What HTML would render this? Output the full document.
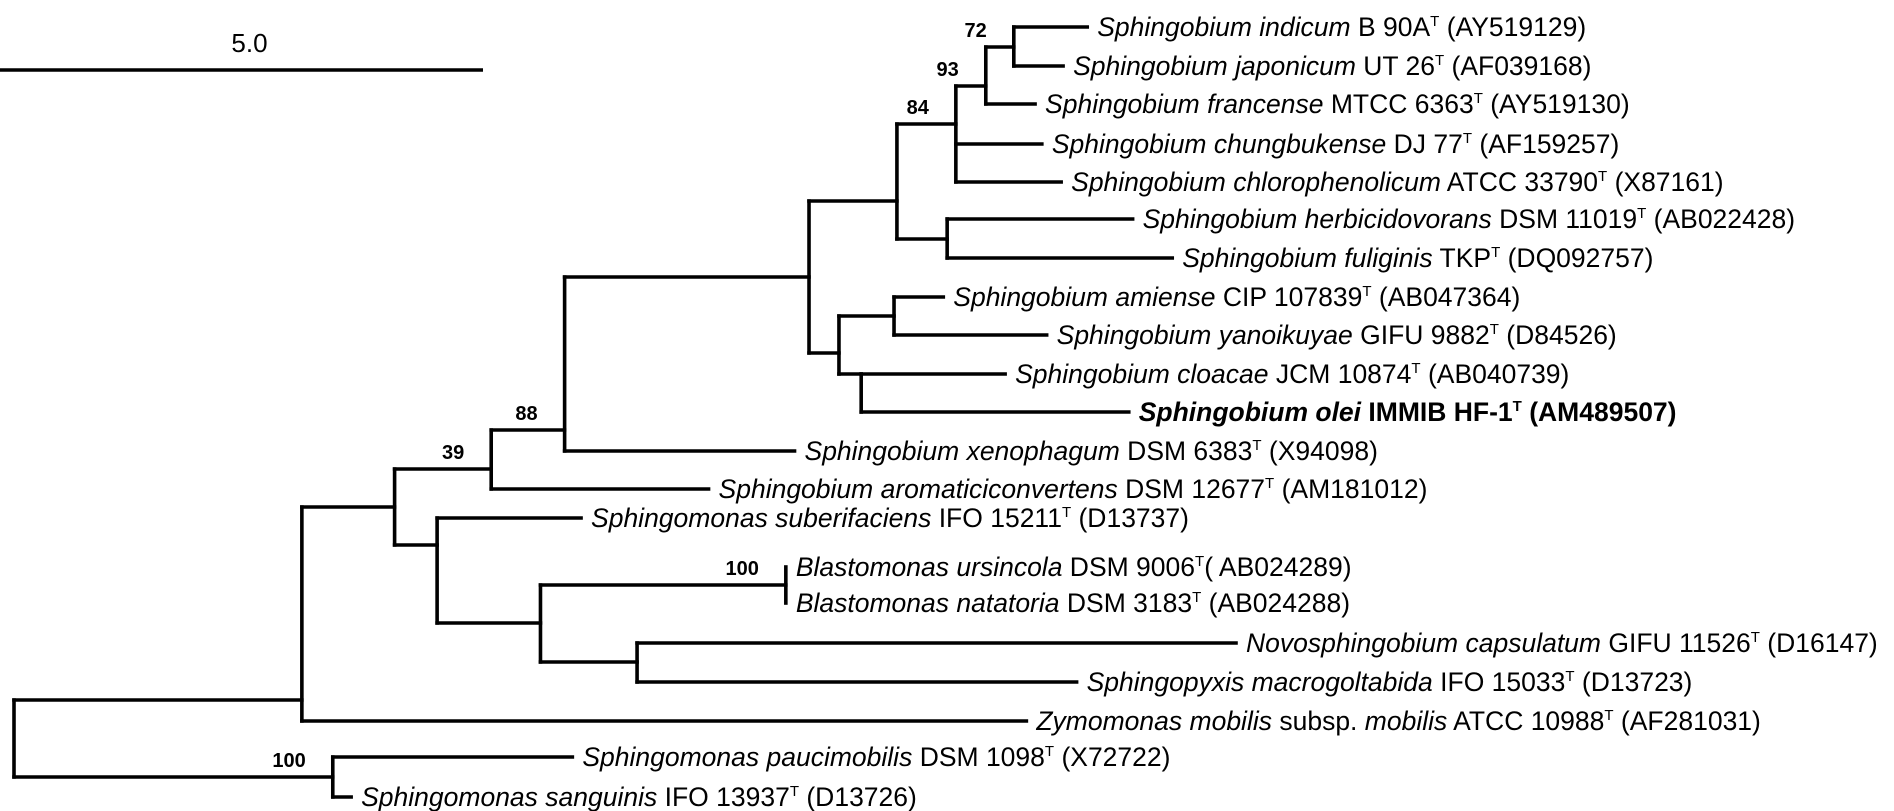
<!DOCTYPE html>
<html><head><meta charset="utf-8"><style>
html,body{margin:0;padding:0;background:#fff;}
svg{display:block;}
text{font-family:"Liberation Sans",Arial,sans-serif;fill:#000;}
</style></head><body>
<svg id="tree" width="1894" height="811" viewBox="0 0 1894 811" xmlns="http://www.w3.org/2000/svg"></svg>
<script>
// internal nodes: id, parent, depth (substitution units), row y
const nodeIds     = ['R','A','S','B','C','D','E','F','G','H','I','J','K','L','M','N','O','P','Q'];
const nodeParents = [null,'R','R','A','B','C','D','E','F','G','H','F','E','K','K','B','N','O','O'];
const nodeDepths  = [0,2.98,3.30,3.94,4.94,5.70,8.23,9.14,9.75,10.06,10.35,9.66,8.54,9.11,8.77,4.38,5.45,7.99,6.45];
const nodeRows    = [738,700,777,507,469,430,277,201,124,86,47,239,353,316,374,545,623,585,662];
const bootNodes   = ['I','H','G','D','C','P','S'];
const bootValues  = ['72','93','84','88','39','100','100'];
// leaves
const leafGenus   = ['Sphingobium indicum','Sphingobium japonicum','Sphingobium francense','Sphingobium chungbukense','Sphingobium chlorophenolicum','Sphingobium herbicidovorans','Sphingobium fuliginis','Sphingobium amiense','Sphingobium yanoikuyae','Sphingobium cloacae','Sphingobium olei','Sphingobium xenophagum','Sphingobium aromaticiconvertens','Sphingomonas suberifaciens','Blastomonas ursincola','Blastomonas natatoria','Novosphingobium capsulatum','Sphingopyxis macrogoltabida','Zymomonas mobilis','Sphingomonas paucimobilis','Sphingomonas sanguinis'];
const leafStrain  = ['B 90A','UT 26','MTCC 6363','DJ 77','ATCC 33790','DSM 11019','TKP','CIP 107839','GIFU 9882','JCM 10874','IMMIB HF-1','DSM 6383','DSM 12677','IFO 15211','DSM 9006','DSM 3183','GIFU 11526','IFO 15033','','DSM 1098','IFO 13937'];
const leafAcc     = ['(AY519129)','(AF039168)','(AY519130)','(AF159257)','(X87161)','(AB022428)','(DQ092757)','(AB047364)','(D84526)','(AB040739)','(AM489507)','(X94098)','(AM181012)','(D13737)','( AB024289)','(AB024288)','(D16147)','(D13723)','(AF281031)','(X72722)','(D13726)'];
const leafParents = ['I','I','H','G','G','J','J','L','L','M','M','D','C','N','P','P','Q','Q','A','S','S'];
const leafDepths  = [11.11,10.86,10.57,10.64,10.84,11.58,11.99,9.62,10.69,10.26,11.54,8.08,7.19,5.87,7.99,7.99,12.65,11.00,10.48,5.78,3.49];
const leafRows    = [27,66,104,144,182,219,258,297,335,374,412,451,489,518,567,603,643,682,721,757,797];
const scaleValue = 5.0;

const NS='http://www.w3.org/2000/svg';
const svg=document.getElementById('tree');
const X0=14, PXU=96.6;
const xs=d=>X0+d*PXU;
const nodeX={}, nodeY={};
nodeIds.forEach((id,i)=>{nodeX[id]=xs(nodeDepths[i]);nodeY[id]=nodeRows[i];});
function mk(tag,attrs){const e=document.createElementNS(NS,tag);for(const k in attrs)e.setAttribute(k,attrs[k]);svg.appendChild(e);return e;}
const SW=3.6;
const span={};
function addSpan(p,y){if(!span[p])span[p]=[y,y];span[p][0]=Math.min(span[p][0],y);span[p][1]=Math.max(span[p][1],y);}
nodeIds.forEach((id,i)=>{const p=nodeParents[i];if(!p)return;addSpan(p,nodeY[id]);
  const l=mk('line',{x1:nodeX[p],y1:nodeY[id],x2:nodeX[id],y2:nodeY[id],stroke:'#000','stroke-width':SW,'stroke-linecap':'square'});
  
  
});
leafGenus.forEach((g,i)=>{const p=leafParents[i];const y=leafRows[i];addSpan(p,y);
  const x2=xs(leafDepths[i]);
  if(x2-nodeX[p]>0.5){const l=mk('line',{x1:nodeX[p],y1:y,x2:x2,y2:y,stroke:'#000','stroke-width':SW,'stroke-linecap':'square'});
  
  }
  const bold=(i===10);
  const t=mk('text',{x:x2+10,y:y+9,'font-size':26.5,'font-weight':bold?'bold':'normal'});
  
  
  let s1=document.createElementNS(NS,'tspan');s1.setAttribute('font-style','italic');s1.textContent=g;t.appendChild(s1);
  if(i===18){const a=document.createElementNS(NS,'tspan');a.textContent=' subsp. ';t.appendChild(a);
    const b=document.createElementNS(NS,'tspan');b.setAttribute('font-style','italic');b.textContent='mobilis';t.appendChild(b);
    const c=document.createElementNS(NS,'tspan');c.textContent=' ATCC 10988';t.appendChild(c);}
  else{const a=document.createElementNS(NS,'tspan');a.textContent=' '+leafStrain[i];t.appendChild(a);}
  const sup=document.createElementNS(NS,'tspan');sup.setAttribute('font-size','15');sup.setAttribute('dy','-10');sup.textContent='T';t.appendChild(sup);
  const acc=document.createElementNS(NS,'tspan');acc.setAttribute('dy','10');acc.textContent=(i===14?'':' ')+leafAcc[i];t.appendChild(acc);
});
Object.keys(span).forEach(p=>{const s=span[p];
  const l=mk('line',{x1:nodeX[p],y1:s[0],x2:nodeX[p],y2:s[1],stroke:'#000','stroke-width':SW,'stroke-linecap':'square'});
  
  
});
bootNodes.forEach((id,i)=>{
  const t=mk('text',{x:nodeX[id]-27,y:nodeY[id]-10,'font-size':20,'font-weight':'bold','text-anchor':'end'});
  t.textContent=bootValues[i];
  
  
});
const sb=mk('line',{x1:0,y1:70,x2:scaleValue*PXU,y2:70,stroke:'#000','stroke-width':3.6});


const st=mk('text',{x:scaleValue*PXU/2+8,y:52,'font-size':26,'text-anchor':'middle'});
st.textContent=scaleValue.toFixed(1);


</script>
</body></html>
